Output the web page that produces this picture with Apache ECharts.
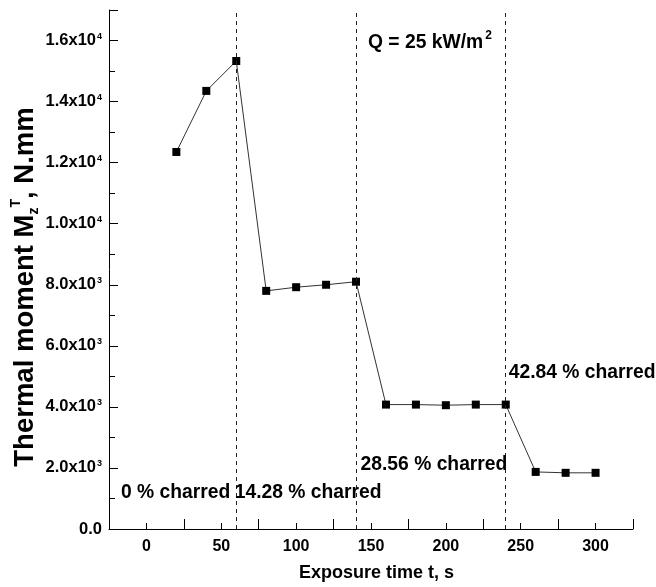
<!DOCTYPE html>
<html>
<head>
<meta charset="utf-8">
<script src="https://cdn.jsdelivr.net/npm/echarts@6/dist/echarts.min.js"></script>
<style>html,body{margin:0;padding:0;background:#fff;}#c{width:656px;height:587px;}</style>
</head>
<body>
<div id="c"></div>
<script>
// ---- data ----
const exposureTime = [20, 40, 60, 80, 100, 120, 140, 160, 180, 200, 220, 240, 260, 280, 300];
const thermalMoment = [12350, 14350, 15330, 7800, 7920, 8000, 8100, 4075, 4075, 4055, 4075, 4075, 1870, 1840, 1840];
const charringLines = [60, 140, 240];
const annotationTexts = ['0 % charred', '14.28 % charred', '28.56 % charred', '42.84 % charred'];
const annotationX = [-17, 59, 143, 242];
const annotationY = [1180, 1180, 2110, 5115];
const titleNote = 'Q = 25 kW/m';
const titleNoteSup = '2';
const titleNoteX = 148;
const titleNoteY = 15945;
const yLabelValues = [0, 2000, 4000, 6000, 8000, 10000, 12000, 14000, 16000];
const yLabelMantissa = ['0.0', '2.0x10', '4.0x10', '6.0x10', '8.0x10', '1.0x10', '1.2x10', '1.4x10', '1.6x10'];
const yLabelExp = ['', '3', '3', '3', '3', '4', '4', '4', '4'];
const xLabelValues = [0, 50, 100, 150, 200, 250, 300];

function hasFont(name) {
  const c = document.createElement('canvas').getContext('2d');
  const t = '28.56 % charred';
  c.font = 'bold 23px monospace';
  const w1 = c.measureText(t).width;
  c.font = 'bold 23px "' + name + '", monospace';
  const w2 = c.measureText(t).width;
  return Math.abs(w1 - w2) > 0.5;
}
const narrow = hasFont('Liberation Sans Narrow');
const BASE = '"Liberation Sans", Arial, sans-serif';
const ANN_FONT = narrow ? '"Liberation Sans Narrow", "Liberation Sans", sans-serif' : BASE;
const ANN_SIZE = narrow ? 23 : 19.3;

const chart = echarts.init(document.getElementById('c'), null, {renderer: 'canvas'});

const option = {
  animation: false,
  backgroundColor: '#fff',
  grid: {left: 109, right: 23, top: 10, bottom: 54},
  xAxis: [
    {
      type: 'value', min: -25, max: 325, interval: 25, position: 'bottom',
      axisLine: {show: true, onZero: false, lineStyle: {color: '#000', width: 1}},
      axisTick: {show: true, inside: true, length: 6, lineStyle: {color: '#000', width: 1}},
      splitLine: {show: false},
      axisLabel: {
        show: true, margin: 10, color: '#000', fontSize: 16, fontWeight: 'bold', fontFamily: BASE,
        showMinLabel: true, showMaxLabel: true,
        formatter: function (v) { return xLabelValues.indexOf(v) >= 0 ? String(v) : ''; }
      },
      name: 'Exposure time t, s', nameLocation: 'middle', nameGap: 35,
      nameTextStyle: {color: '#000', fontSize: 18, fontWeight: 'bold', fontFamily: BASE, padding: [0, 0, 0, 11]}
    },
    {
      type: 'value', min: -25, max: 325, interval: 50, position: 'bottom',
      axisLine: {show: false, onZero: false},
      axisTick: {show: true, inside: true, length: 10, lineStyle: {color: '#000', width: 1}},
      splitLine: {show: false},
      axisLabel: {show: false}
    }
  ],
  yAxis: [
    {
      type: 'value', min: 0, max: 17000, interval: 1000, position: 'left', offset: 0,
      axisLine: {show: true, onZero: false, lineStyle: {color: '#000', width: 1}},
      axisTick: {show: true, inside: true, length: 6, lineStyle: {color: '#000', width: 1}},
      splitLine: {show: false},
      axisLabel: {
        show: true, margin: 7, color: '#000', fontFamily: BASE,
        formatter: function (v) {
          const i = yLabelValues.indexOf(v);
          if (i < 0) return '';
          return yLabelExp[i] ? '{b|' + yLabelMantissa[i] + '}{s|' + yLabelExp[i] + '}' : '{b|' + yLabelMantissa[i] + '}';
        },
        rich: {
          b: {fontSize: 16.5, fontWeight: 'bold', color: '#000', fontFamily: BASE, lineHeight: 18},
          s: {fontSize: 9, fontWeight: 'bold', color: '#000', fontFamily: BASE, verticalAlign: 'top', lineHeight: 18, padding: [0, 0, 6, 1]}
        }
      }
    },
    {
      type: 'value', min: 0, max: 17000, interval: 2000, position: 'left', offset: 0,
      axisLine: {show: false, onZero: false},
      axisTick: {show: true, inside: true, length: 9, lineStyle: {color: '#000', width: 1}},
      splitLine: {show: false},
      axisLabel: {show: false}
    }
  ],
  series: [
    {
      type: 'line',
      xAxisIndex: 0, yAxisIndex: 0,
      data: exposureTime.map((x, i) => [x, thermalMoment[i]]),
      symbol: 'rect', symbolSize: 8,
      itemStyle: {color: '#000'},
      lineStyle: {color: '#333', width: 1},
      markLine: {
        silent: true, symbol: ['none', 'none'],
        label: {show: false},
        lineStyle: {color: '#222', width: 1, type: [4, 4]},
        data: charringLines.map(v => ({xAxis: v}))
      },
      z: 3
    }
  ]
};
chart.setOption(option);

// annotations placed through the axis scales
const graphics = [];
annotationTexts.forEach((t, i) => {
  const p = chart.convertToPixel({xAxisIndex: 0, yAxisIndex: 0}, [annotationX[i], annotationY[i]]);
  graphics.push({
    type: 'text', x: p[0], y: p[1], z: 10,
    style: {text: t, fill: '#000', font: 'bold ' + ANN_SIZE + 'px ' + ANN_FONT, align: 'left', verticalAlign: 'middle'}
  });
});
const q = chart.convertToPixel({xAxisIndex: 0, yAxisIndex: 0}, [titleNoteX, titleNoteY]);
graphics.push({
  type: 'text', x: q[0], y: q[1], z: 10,
  style: {
    text: '{q|' + titleNote + '}{s|' + titleNoteSup + '}',
    align: 'left', verticalAlign: 'middle',
    rich: {
      q: {fontSize: ANN_SIZE, fontWeight: 'bold', fontFamily: ANN_FONT, fill: '#000', lineHeight: 26},
      s: {fontSize: 12, fontWeight: 'bold', fontFamily: ANN_FONT, fill: '#000', verticalAlign: 'top', lineHeight: 26, padding: [0, 0, 8, 2]}
    }
  }
});
// rotated y-axis title
graphics.push({
  type: 'text', x: 25, y: 287, rotation: Math.PI / 2, z: 10,
  style: {
    text: '{m|Thermal moment M}{sub|z}{sup|T}{m|, N.mm}',
    align: 'center', verticalAlign: 'middle',
    rich: {
      m: {fontSize: 27.5, fontWeight: 'bold', fontFamily: BASE, fill: '#000', lineHeight: 32},
      sub: {fontSize: 14, fontWeight: 'bold', fontFamily: BASE, fill: '#000', verticalAlign: 'bottom', lineHeight: 32, padding: [6, 0, 0, 0]},
      sup: {fontSize: 14, fontWeight: 'bold', fontFamily: BASE, fill: '#000', verticalAlign: 'top', lineHeight: 32, padding: [0, 0, 6, 0]}
    }
  }
});
chart.setOption({graphic: graphics});
</script>
</body>
</html>
